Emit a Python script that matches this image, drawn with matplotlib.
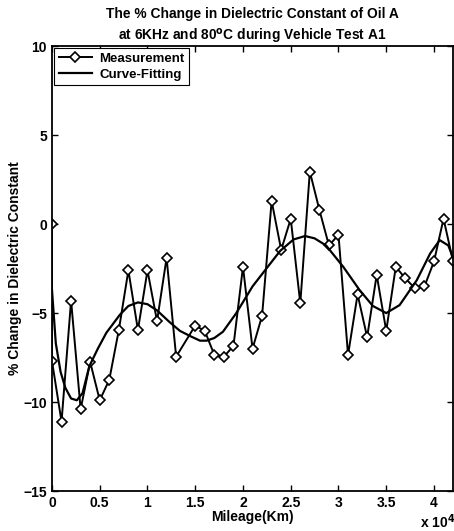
import matplotlib.pyplot as plt
import numpy as np

plt.rcParams['font.family'] = ['Liberation Sans', 'DejaVu Sans']
plt.rcParams['font.weight'] = 'bold'

# measured points (mileage in km, % change)
mileage = [0, 0, 1000, 2000, 3000, 4000, 5000, 6000, 7000, 8000, 9000, 10000,
           11000, 12000, 13000, 15000, 16000, 17000, 18000, 19000, 20000,
           21000, 22000, 23000, 24000, 25000, 26000, 27000, 28000, 29000,
           30000, 31000, 32000, 33000, 34000, 35000, 36000, 37000, 38000,
           39000, 40000, 41000, 42000]
change = [0.0, -7.7, -11.1, -4.3, -10.4, -7.75, -9.9, -8.75, -5.95, -2.6, -5.95,
          -2.6, -5.45, -1.9, -7.45, -5.7, -6.0, -7.35, -7.45, -6.85, -2.4,
          -7.0, -5.15, 1.3, -1.45, 0.3, -4.45, 2.95, 0.8, -1.2, -0.6, -7.35,
          -3.95, -6.35, -2.85, -6.0, -2.4, -3.05, -3.6, -3.5, -2.1, 0.3, -2.1]

# curve-fitting line
fit_km = [0, 400, 900, 1400, 2000, 2600, 3200, 3900, 4800, 5700, 7100, 8000,
          9000, 10000, 11000, 12300, 13400, 14500, 15500, 16200, 17000, 17900,
          19300, 21000, 22300, 23900, 25300, 26500, 27500, 28700, 30500, 32200,
          33600, 35000, 36400, 38200, 39600, 40600, 41500, 42000]
fit_val = [-3.7, -6.7, -8.3, -9.2, -9.8, -9.9, -9.5, -8.0, -7.0, -6.1, -5.1,
           -4.6, -4.4, -4.5, -4.85, -5.5, -6.0, -6.3, -6.55, -6.55, -6.4,
           -6.05, -5.0, -3.5, -2.6, -1.5, -0.86, -0.67, -0.8, -1.2, -2.4, -3.7,
           -4.6, -5.0, -4.55, -3.15, -1.65, -0.9, -1.2, -1.9]

xticks = [0, 5000, 10000, 15000, 20000, 25000, 30000, 35000, 40000]
xlabels = ['0', '0.5', '1', '1.5', '2', '2.5', '3', '3.5', '4']
yticks = [-15, -10, -5, 0, 5, 10]

fig = plt.figure(figsize=(4.54, 5.31), dpi=100)
ax = fig.add_axes([0.1145, 0.0753, 0.8835, 0.8377])

ax.plot(mileage, change, color='black', lw=1.4, marker='D', markersize=5,
        markerfacecolor='white', markeredgecolor='black', markeredgewidth=1.2,
        label='Measurement')
ax.plot(fit_km, fit_val, color='black', lw=1.6, label='Curve-Fitting')

ax.set_xlim(0, 42000)
ax.set_ylim(-15, 10)
ax.set_xticks(xticks)
ax.set_xticklabels(xlabels)
ax.set_yticks(yticks)
ax.tick_params(direction='in', top=True, right=True, labelsize=10, length=4, width=1)
for s in ax.spines.values():
    s.set_linewidth(1.3)

ax.set_xlabel('Mileage(Km)', fontsize=10, fontweight='bold', labelpad=0)
ax.set_ylabel('% Change in Dielectric Constant', fontsize=10, fontweight='bold', labelpad=1)
ax.set_title('The % Change in Dielectric Constant of Oil A\nat 6KHz and 80$^\\mathbf{o}$C during Vehicle Test A1',
             fontsize=9.9, fontweight='bold', pad=4, linespacing=1.45)
fig.text(0.925, 0.006, 'x 10$^\\mathbf{4}$', fontsize=10, fontweight='bold')

leg = ax.legend(loc='upper left', fontsize=9.5, handlelength=2.5, borderaxespad=0.15,
                fancybox=False, edgecolor='black', framealpha=1, borderpad=0.35,
                labelspacing=0.25, handletextpad=0.6)
leg.get_frame().set_linewidth(0.8)

fig.savefig('out.png', dpi=100)
